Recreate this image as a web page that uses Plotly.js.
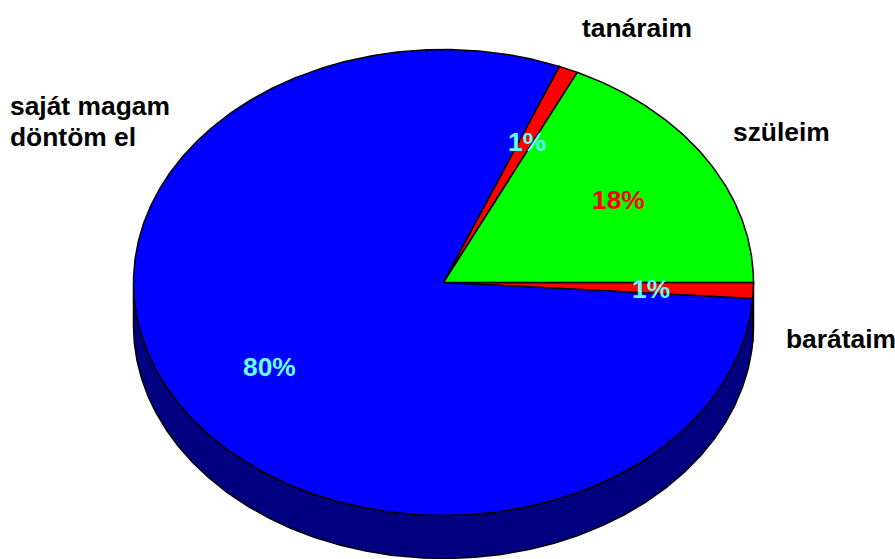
<!DOCTYPE html>
<html>
<head>
<meta charset="utf-8">
<script src="https://cdn.plot.ly/plotly-3.0.1.min.js"></script>
<style>html,body{margin:0;padding:0;background:#fff;overflow:hidden}#chart{width:895px;height:559px}</style>
</head>
<body>
<div id="chart"></div>
<script>
// Data, clockwise from the 3 o'clock position
var categories = ['barátaim', 'saját magam<br>döntöm el', 'tanáraim', 'szüleim'];
var values = [1.1, 80, 1, 17.9];
var percentLabels = ['1%', '80%', '1%', '18%'];
var sliceColors = ['#ff0000', '#0000ff', '#ff0000', '#00ff00'];
var wallColors = ['#800000', '#000080', '#800000', '#008000'];
var percentColors = ['#66ffff', '#66ffff', '#66ffff', '#ff0000'];

// Placement (plot units equal page pixels)
var CX = 443.5, CY = 282.5, RX = 310, RY = 233, DEPTH = 43;
var categoryAnchors = [
  {x: 784, y: 339, dy: 31}, {x: 8, y: 106, dy: 31},
  {x: 580, y: 28, dy: 31}, {x: 731, y: 132, dy: 31}
];
var percentAnchors = [{x: 651, y: 289}, {x: 269, y: 367}, {x: 527, y: 142}, {x: 618, y: 200}];

function arc(a, b, dz) {
  var xs = [], ys = [], n = Math.max(2, Math.ceil((b - a) * 2));
  for (var i = 0; i <= n; i++) {
    var t = (a + (b - a) * i / n) * Math.PI / 180;
    xs.push(CX + RX * Math.cos(t));
    ys.push(CY + RY * Math.sin(t) + dz);
  }
  return {x: xs, y: ys};
}

var total = values.reduce(function (s, v) { return s + v; }, 0);
var walls = [], tops = [], start = 0;
values.forEach(function (v, i) {
  var end = start + v / total * 360;
  var a = Math.max(start, 0), b = Math.min(end, 180);
  if (b > a) {
    var up = arc(a, b, 0), low = arc(a, b, DEPTH);
    walls.push({
      type: 'scatter', mode: 'lines', fill: 'toself', fillcolor: wallColors[i],
      x: up.x.concat(low.x.slice().reverse(), [up.x[0]]),
      y: up.y.concat(low.y.slice().reverse(), [up.y[0]]),
      line: {color: '#000', width: 1.5}, hoverinfo: 'skip', showlegend: false
    });
  }
  var rim = arc(start, end, 0);
  tops.push({
    type: 'scatter', mode: 'lines', fill: 'toself', fillcolor: sliceColors[i],
    x: [CX].concat(rim.x, [CX]),
    y: [CY].concat(rim.y, [CY]),
    line: {color: '#000', width: 1.5}, name: categories[i].replace('<br>', ' '),
    text: percentLabels[i], hoverinfo: 'name+text', showlegend: false
  });
  start = end;
});

var font = {family: '"Liberation Sans", Arial, sans-serif', size: 26.4, weight: 'bold', color: '#000'};
var annotations = [];
categories.forEach(function (c, i) {
  c.split('<br>').forEach(function (line, k) {
    annotations.push({
      x: categoryAnchors[i].x, y: categoryAnchors[i].y + k * categoryAnchors[i].dy,
      xref: 'x', yref: 'y', text: line, showarrow: false,
      xanchor: 'left', yanchor: 'middle', font: font
    });
  });
});
percentLabels.forEach(function (p, i) {
  annotations.push({
    x: percentAnchors[i].x, y: percentAnchors[i].y, xref: 'x', yref: 'y', text: p, showarrow: false,
    xanchor: 'center', yanchor: 'middle',
    font: {family: font.family, size: 26.4, weight: 'bold', color: percentColors[i]}
  });
});

var hidden = {visible: false, fixedrange: true};
Plotly.newPlot('chart', walls.concat(tops), {
  width: 895, height: 559,
  margin: {l: 0, r: 0, t: 0, b: 0},
  paper_bgcolor: '#fff', plot_bgcolor: '#fff',
  xaxis: Object.assign({range: [0, 895]}, hidden),
  yaxis: Object.assign({range: [559, 0]}, hidden),
  annotations: annotations, showlegend: false
}, {displayModeBar: false});
</script>
</body>
</html>
